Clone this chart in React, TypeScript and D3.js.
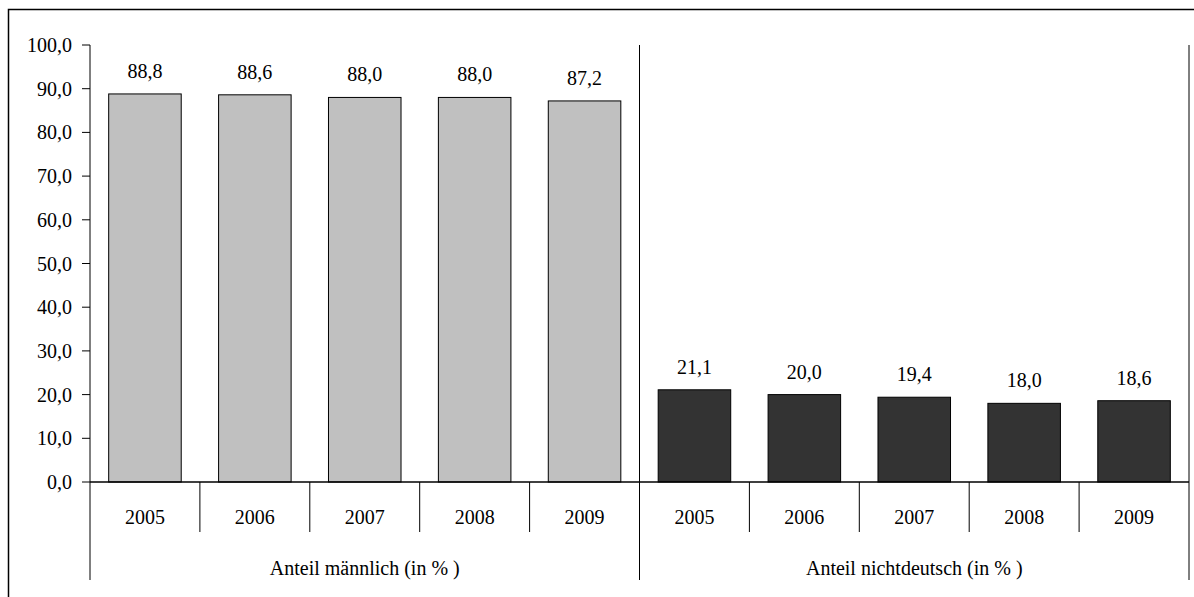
import React from "react";
import * as d3 from "d3";

const years = ["2005", "2006", "2007", "2008", "2009"];
const groups = ["Anteil männlich (in % )", "Anteil nichtdeutsch (in % )"];
const maleShare = [88.8, 88.6, 88.0, 88.0, 87.2];
const foreignShare = [21.1, 20.0, 19.4, 18.0, 18.6];
const yTicks = [0, 10, 20, 30, 40, 50, 60, 70, 80, 90, 100];
const groupColors = ["#c0c0c0", "#333333"];

const W = 1194;
const H = 597;
const left = 90;
const right = 1189;
const top = 45;
const bottom = 482;
const sepBottom = 532;
const groupBottom = 580;
const FONT = "'Liberation Serif', 'Times New Roman', serif";
const fmt = (v: number) => v.toFixed(1).replace(".", ",");

export default function App() {
  const series = [maleShare, foreignShare];
  const cats: { key: string; group: number; year: string; value: number }[] = [];
  groups.forEach((g, gi) =>
    years.forEach((y, yi) => cats.push({ key: `${gi}-${y}`, group: gi, year: y, value: series[gi][yi] }))
  );
  const x = d3.scaleBand<string>().domain(cats.map((c) => c.key)).range([left, right]).padding(0);
  const y = d3.scaleLinear().domain([0, 100]).range([bottom, top]);
  const bw = x.bandwidth();
  const barW = bw * 0.66;
  const groupW = bw * years.length;

  return (
    <svg
      width={W}
      height={H}
      style={{ position: "absolute", left: 0, top: 0, background: "#fff" }}
      fontFamily={FONT}
    >
      <rect x={8.5} y={9.5} width={W + 20} height={H + 20} fill="#fff" stroke="#000" strokeWidth={1.5} />
      {/* bars */}
      {cats.map((c) => {
        const cx = (x(c.key) as number) + bw / 2;
        return (
          <g key={c.key}>
            <rect
              x={cx - barW / 2}
              y={y(c.value)}
              width={barW}
              height={bottom - y(c.value)}
              fill={groupColors[c.group]}
              stroke="#000"
              strokeWidth={1}
            />
            <text x={cx} y={y(c.value) - 16} textAnchor="middle" fontSize={20} fill="#000">
              {fmt(c.value)}
            </text>
            <text x={cx} y={524} textAnchor="middle" fontSize={20} fill="#000">
              {c.year}
            </text>
          </g>
        );
      })}
      {/* y axis ticks */}
      {yTicks.map((t) => (
        <g key={t}>
          <line x1={82} x2={left} y1={y(t)} y2={y(t)} stroke="#000" strokeWidth={1} />
          <text x={72} y={y(t) + 7} textAnchor="end" fontSize={20} fill="#000">
            {fmt(t)}
          </text>
        </g>
      ))}
      {/* x axis line */}
      <line x1={left} x2={right} y1={bottom} y2={bottom} stroke="#000" strokeWidth={1.5} />
      {/* year separators */}
      {cats.map((c, i) =>
        i % years.length === 0 ? null : (
          <line
            key={`s${c.key}`}
            x1={x(c.key) as number}
            x2={x(c.key) as number}
            y1={bottom}
            y2={sepBottom}
            stroke="#000"
            strokeWidth={1}
          />
        )
      )}
      {/* group separators (full height) */}
      {d3.range(groups.length + 1).map((i) => (
        <line
          key={`g${i}`}
          x1={left + i * groupW}
          x2={left + i * groupW}
          y1={top}
          y2={groupBottom}
          stroke="#000"
          strokeWidth={1}
        />
      ))}
      {groups.map((g, i) => (
        <text key={g} x={left + (i + 0.5) * groupW} y={575} textAnchor="middle" fontSize={20} fill="#000">
          {g}
        </text>
      ))}
    </svg>
  );
}
